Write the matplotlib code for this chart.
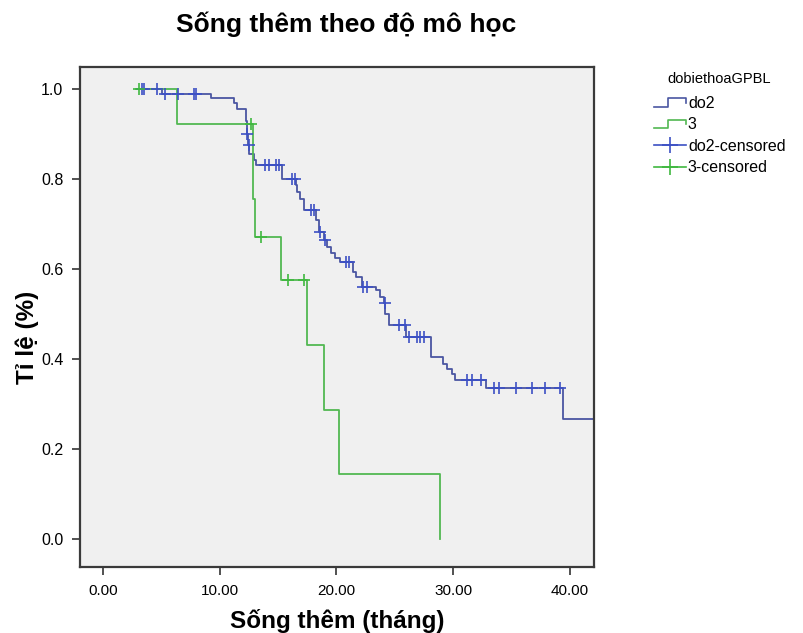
import numpy as np
import matplotlib
matplotlib.use("Agg")
import matplotlib.pyplot as plt
from matplotlib.lines import Line2D
from matplotlib.legend_handler import HandlerBase

plt.rcParams['font.family'] = ['Liberation Sans', 'DejaVu Sans']

# group "do2": start time, event times and survival after each event
do2_start = 2.9
do2_times = [5.0, 9.2, 11.2, 11.5, 12.2, 12.3, 12.4, 12.5, 12.9, 13.1,
             15.3, 16.5, 16.6, 16.9, 17.2, 18.2, 18.5, 18.9, 19.2, 19.5,
             19.9, 20.3, 21.4, 21.7, 22.2, 23.4, 23.7, 24.1, 24.2, 24.5,
             26.0, 28.1, 29.1, 29.5, 29.9, 30.2, 32.8, 39.4]
do2_surv = [0.990, 0.980, 0.970, 0.957, 0.930, 0.900, 0.875, 0.857, 0.843, 0.831,
            0.800, 0.787, 0.772, 0.757, 0.731, 0.709, 0.683, 0.664, 0.650, 0.635,
            0.624, 0.616, 0.594, 0.583, 0.561, 0.553, 0.539, 0.524, 0.500, 0.476,
            0.450, 0.405, 0.390, 0.379, 0.368, 0.353, 0.335, 0.268]
do2_end = 42.3
do2_censored = [3.3, 3.5, 4.6, 5.3, 6.4, 7.75, 7.96, 12.35, 12.48, 13.9, 14.2,
                14.8, 15.05, 16.2, 16.4, 17.8, 18.1, 18.6, 19.0, 20.8, 21.1,
                22.3, 22.6, 24.15, 25.35, 25.9, 26.2, 26.9, 27.2, 27.5,
                31.2, 31.6, 32.4, 33.5, 33.9, 35.4, 36.8, 37.9, 39.2]

# group "3"
g3_start = 2.8
g3_times = [6.3, 12.8, 13.0, 15.2, 17.5, 18.9, 20.2, 28.9]
g3_surv = [0.923, 0.755, 0.671, 0.575, 0.431, 0.288, 0.144, 0.0]
g3_end = 28.9
g3_censored = [3.1, 12.7, 13.5, 15.8, 17.2]

x_ticks = [0, 10, 20, 30, 40]
y_ticks = [0.0, 0.2, 0.4, 0.6, 0.8, 1.0]

blue_line = '#4a56a2'
blue_mark = '#3c50c4'
green_line = '#52b852'
green_mark = '#3fb83f'


def step_xy(start, times, surv, end):
    xs = [start] + list(times) + [end]
    ys = [1.0] + list(surv) + [surv[-1]]
    return xs, ys


def surv_at(t, times, surv):
    idx = np.searchsorted(times, t, side='right')
    return 1.0 if idx == 0 else surv[idx - 1]


class StepHandler(HandlerBase):
    def create_artists(self, legend, orig_handle, xdescent, ydescent,
                       width, height, fontsize, trans):
        x0, y0 = -xdescent, -ydescent
        xs = [x0, x0 + width * 0.45, x0 + width * 0.45, x0 + width, x0 + width]
        ys = [y0 + height * 0.1, y0 + height * 0.1, y0 + height * 0.85,
              y0 + height * 0.85, y0 + height * 0.45]
        ln = Line2D(xs, ys, color=orig_handle.get_color(), lw=1.2)
        ln.set_transform(trans)
        return [ln]


fig = plt.figure(figsize=(8.04, 6.33), dpi=100)
ax = fig.add_axes([0.0995, 0.104, 0.6395, 0.79])
ax.set_facecolor('#f0f0f0')

xs, ys = step_xy(do2_start, do2_times, do2_surv, do2_end)
ax.step(xs, ys, where='post', color=blue_line, lw=1.3)
xs, ys = step_xy(g3_start, g3_times, g3_surv, g3_end)
ax.step(xs, ys, where='post', color=green_line, lw=1.3)

cy = [surv_at(t, do2_times, do2_surv) for t in do2_censored]
ax.plot(do2_censored, cy, ls='none', marker='+', ms=8, mew=1.2, color=blue_mark)
cy = [surv_at(t, g3_times, g3_surv) for t in g3_censored]
ax.plot(g3_censored, cy, ls='none', marker='+', ms=8, mew=1.2, color=green_mark)

ax.set_xlim(-2.0, 42.1)
ax.set_ylim(-0.062, 1.049)
ax.set_xticks(x_ticks)
ax.set_xticklabels([f"{v:.2f}" for v in x_ticks], fontsize=11)
ax.set_yticks(y_ticks)
ax.set_yticklabels([f"{v:.1f}" for v in y_ticks], fontsize=11.5)
ax.tick_params(direction='out', length=6, width=1.2, color='#333333', pad=6)
for sp in ax.spines.values():
    sp.set_color('#3a3a3a')
    sp.set_linewidth(1.6)

ax.set_xlabel('Sống thêm (tháng)', fontsize=17.5, fontweight='bold', labelpad=8)
ax.set_ylabel('Tỉ lệ (%)', fontsize=17.5, fontweight='bold')
ax.yaxis.set_label_coords(-0.08, 0.46)
fig.text(0.43, 0.962, 'Sống thêm theo độ mô học', fontsize=19,
         fontweight='bold', ha='center', va='center')

h_do2 = Line2D([], [], color=blue_line)
h_3 = Line2D([], [], color=green_line)
h_do2c = Line2D([], [], color=blue_mark, marker='+', ms=12, mew=1.2, lw=1.2)
h_3c = Line2D([], [], color=green_mark, marker='+', ms=12, mew=1.2, lw=1.2)
leg = ax.legend([h_do2, h_3, h_do2c, h_3c],
                ['do2', '3', 'do2-censored', '3-censored'],
                handler_map={h_do2: StepHandler(), h_3: StepHandler()},
                loc='upper left', bbox_to_anchor=(0.805, 0.896),
                bbox_transform=fig.transFigure, frameon=False,
                fontsize=11.5, title='dobiethoaGPBL', title_fontsize=10.5,
                handlelength=2.0, handletextpad=0.15, labelspacing=0.4,
                borderaxespad=0)
leg._legend_box.align = 'center'
leg._legend_box.sep = 7

fig.savefig('out.png', dpi=100, facecolor='white')
